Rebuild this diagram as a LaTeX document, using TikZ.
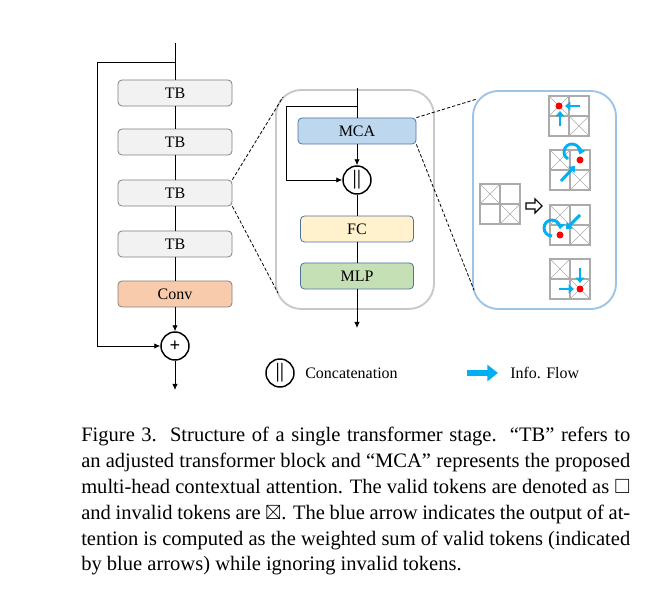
\documentclass[tikz,border=0pt]{standalone}
\usepackage{amssymb}
\usepackage{bm}
\usepackage{fontspec}
\setmainfont{Liberation Serif}
\usepackage{tikz}
\usetikzlibrary{calc}
\usetikzlibrary{arrows.meta}
\usepackage{xcolor}

\definecolor{tbgray}{HTML}{F2F2F2}
\definecolor{edgegray}{HTML}{808080}
\definecolor{convorange}{HTML}{F8CBAD}
\definecolor{mcablue}{HTML}{BDD7EE}
\definecolor{fcyellow}{HTML}{FFF2CC}
\definecolor{mlpgreen}{HTML}{C5E0B4}
\definecolor{boxedge}{HTML}{4F72A0}
\definecolor{panelgray}{HTML}{C8C8C8}
\definecolor{panelblue}{HTML}{9DC3E6}
\definecolor{flowblue}{HTML}{00B0F0}
\definecolor{gridgray}{HTML}{ABABAB}

\begin{document}
\begin{tikzpicture}[x=0.75pt,y=-0.75pt,
  line/.style={line width=0.6pt},
  arr/.style={line width=0.6pt,-{Latex[length=4.5pt,width=4pt]}},
  block/.style={draw=edgegray,line width=0.6pt,rounded corners=3pt,inner sep=0pt,
    minimum width=85.5pt,minimum height=19.5pt,font=\fontsize{12}{14}\selectfont},
  inner/.style={block,draw=boxedge,minimum width=84.75pt},
  opnode/.style={draw,circle,line width=1.1pt,minimum size=21pt,inner sep=0pt,font=\fontsize{14}{16}\selectfont},
  zoomline/.style={line width=0.6pt,dash pattern=on 2.5pt off 1.5pt},
  grid/.style={draw=gridgray,line width=0.9pt},
  cross/.style={draw=gridgray,line width=0.5pt},
  info/.style={flowblue,line width=2.2pt,-{Triangle[length=4pt,width=6.5pt]}},
  dot/.style={fill=red},
  caption/.style={anchor=base west,inner sep=0pt,text width=411.75pt,align=justify,
    font=\fontsize{15.4}{19.35}\selectfont}]
\useasboundingbox (0,0) rectangle (651,609);

% stage: four TBs and a conv, with the long skip
\node[block,fill=tbgray] (tb1) at (175,93) {TB};
\node[block,fill=tbgray] (tb2) at (175,142) {TB};
\node[block,fill=tbgray] (tb3) at (175,193) {TB};
\node[block,fill=tbgray] (tb4) at (175,244) {TB};
\node[block,fill=convorange] (conv) at (175,294) {Conv};
\node[opnode] (plus) at (175,346) {\textbf{+}};

\coordinate (top) at (175,43);
\coordinate (split) at (175,62);
\coordinate (loopcorner) at (97,62);
\coordinate (out) at (175,390);

\draw[line] (top) -- (tb1);
\draw[line] (tb1) -- (tb2);
\draw[line] (tb2) -- (tb3);
\draw[line] (tb3) -- (tb4);
\draw[line] (tb4) -- (conv);
\draw[arr] (conv) -- (plus);
\draw[arr] (split) -- (loopcorner) |- (plus);
\draw[arr] (plus) -- (out);

% inside one TB
\node[draw=panelgray,line width=1.4pt,rounded corners=19pt,minimum width=118.5pt,minimum height=164.25pt] (midpanel) at (355,199.5) {};
\node[inner,fill=mcablue,minimum width=88.5pt] (mca) at (357,131) {MCA};
\node[opnode] (cat) at (357,180) {$\bm{\|}$};
\node[inner,fill=fcyellow] (fc) at (357,229) {FC};
\node[inner,fill=mlpgreen] (mlp) at (357,276) {MLP};

\coordinate (midtop) at (357,88);
\coordinate (midsplit) at (357,106);
\coordinate (skipcorner) at (286,106);
\coordinate (midout) at (357,328);

\draw[line] (midtop) -- (mca);
\draw[arr] (mca) -- (cat);
\draw[arr] (midsplit) -- (skipcorner) |- (cat);
\draw[line] (cat) -- (fc);
\draw[line] (fc) -- (mlp);
\draw[arr] (mlp) -- (midout);

\coordinate (midnw) at (283,97);
\coordinate (midsw) at (278,293);
\draw[zoomline] (tb3.north east) -- (midnw);
\draw[zoomline] (tb3.south east) -- (midsw);

% inside MCA
\node[draw=panelblue,line width=1.4pt,rounded corners=19pt,minimum width=107.25pt,minimum height=163.5pt] (rightpanel) at (544.5,200) {};

\coordinate (rightnw) at (477,99);
\coordinate (rightsw) at (474,290);
\draw[zoomline] (mca.north east) -- (rightnw);
\draw[zoomline] (mca.south east) -- (rightsw);

\foreach \gx/\gy in {480/184,549/96,550/150,550/205,550/259}{
  \draw[grid] (\gx,\gy) rectangle ++(40,40);
  \draw[grid] (\gx+20,\gy) -- ++(0,40);
  \draw[grid] (\gx,\gy+20) -- ++(40,0);
  \draw[cross] (\gx,\gy) -- ++(20,20) (\gx+20,\gy) -- ++(-20,20);
  \draw[cross] (\gx+20,\gy+20) -- ++(20,20) (\gx+40,\gy+20) -- ++(-20,20);
}

\draw[line width=0.8pt,fill=white] (526,203) -- (535,203) -- (535,199) -- (542,206)
  -- (535,213) -- (535,209) -- (526,209) -- cycle;

\draw[info] (580,106) -- (565,106);
\draw[info] (560,126) -- (560,111);
\fill[dot] (559,106) circle (3.5);

\draw[info] (561,181) -- (575,166);
\draw[info] (572,152) ++(120:8) arc[start angle=120,end angle=378,radius=8];
\fill[dot] (580,160) circle (3.5);

\draw[info] (580,215) -- (566,229);
\draw[info] (552,228) ++(90:8) arc[start angle=90,end angle=368,radius=8];
\fill[dot] (560,235) circle (3.5);

\draw[info] (580,268) -- (580,283);
\draw[info] (559,289) -- (574,289);
\fill[dot] (580,289) circle (3.5);

% legend
\node[opnode] (legcat) at (280,373) {$\bm{\|}$};
\node[anchor=west,inner sep=0pt,font=\fontsize{12}{14}\selectfont] (legcattext) at (305,373) {Concatenation};
\coordinate (legfrom) at (467,373);
\coordinate (legto) at (498,373);
\draw[flowblue,line width=4.5pt,-{Triangle[length=8pt,width=12pt]}] (legfrom) -- (legto);
\node[anchor=west,inner sep=0pt,font=\fontsize{12}{14}\selectfont] (legflowtext) at (510,373) {Info. Flow};

% caption
\node[caption] (cap) at (81,442) {Figure 3.\ \ Structure of a single transformer stage.\ \ “TB” refers to\linebreak
an adjusted transformer block and “MCA” represents the proposed\linebreak
multi-head contextual attention. The valid tokens are denoted as $\square$\linebreak
and invalid tokens are $\boxtimes$. The blue arrow indicates the output of at-\linebreak
tention is computed as the weighted sum of valid tokens (indicated\linebreak
by blue arrows) while ignoring invalid tokens.};

\end{tikzpicture}
\end{document}
